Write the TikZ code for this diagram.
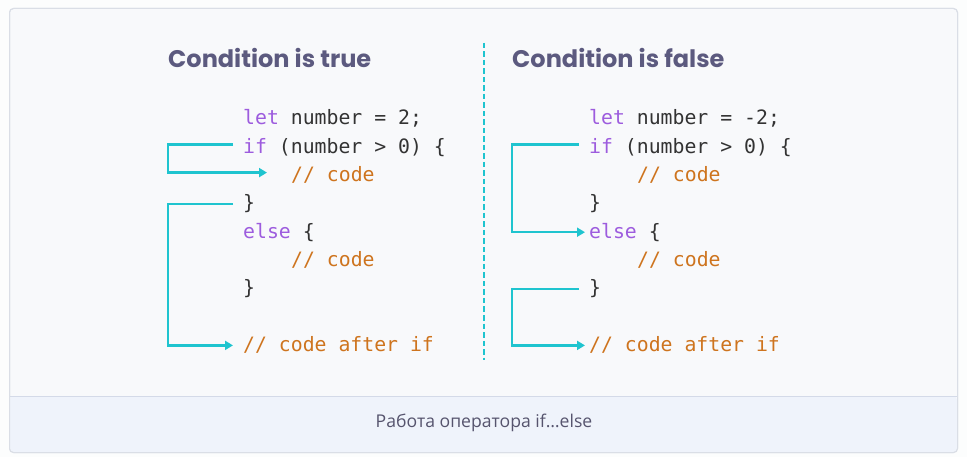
\documentclass[tikz,border=0pt]{standalone}
\usepackage{fontspec}
\setmainfont{Open Sans}
\newfontfamily\codefont{DejaVu Sans Mono}
\newfontfamily\titlefont{Poppins}
\usetikzlibrary{arrows.meta}
\definecolor{panelfill}{RGB}{248,249,251}
\definecolor{panelline}{RGB}{218,222,230}
\definecolor{capfill}{RGB}{239,243,251}
\definecolor{capline}{RGB}{212,218,232}
\definecolor{flowcyan}{RGB}{31,196,207}
\definecolor{titlegray}{RGB}{92,90,127}
\definecolor{captext}{RGB}{86,84,110}
\definecolor{kwpurple}{RGB}{157,92,222}
\definecolor{cmtorange}{RGB}{206,116,30}
\definecolor{codetext}{RGB}{51,51,51}
\newcommand{\kw}[1]{\textcolor{kwpurple}{#1}}

\begin{document}
\begin{tikzpicture}[
  x=1pt,y=-1pt,
  >={Triangle[length=8pt,width=9pt]},
  code/.style={font=\codefont\fontsize{19.8}{19.8}\selectfont,text=codetext,anchor=base west,
               inner sep=0pt,text height=12pt,text depth=0pt},
  cmt/.style={code,text=cmtorange},
  title/.style={font=\titlefont\bfseries\fontsize{24}{24}\selectfont,text=titlegray,anchor=base west,inner sep=0pt},
  flow/.style={->,line width=2.5pt,flowcyan}
]
\useasboundingbox (0,0) rectangle (967,457);

% Frame and caption band
\fill[white!60!panelfill] (0,0) rectangle (967,457);
\filldraw[fill=panelfill,draw=panelline,line width=1pt,rounded corners=4pt] (9.5,8.5) rectangle (957.5,452.5);
\fill[capfill,rounded corners=4pt] (10,396) -- (957,396) -- (957,452) -- (10,452) -- cycle;
\draw[capline,line width=1pt] (10,396) -- (957,396);
\draw[panelline,line width=1pt,rounded corners=4pt] (9.5,8.5) rectangle (957.5,452.5);
\node[font=\fontsize{17.6}{17.6}\selectfont,text=captext] (caption) at (484,423) {Работа оператора if…else};

% Separator between the two cases
\draw[flowcyan,line width=2.5pt,dash pattern=on 5.5pt off 3pt] (484,43) -- (484,360);

% Left panel: condition is true
\node[title] (titleL) at (168,68) {Condition is true};
\node[code] (lt1) at (243,125.0) {\kw{let} number = 2;};
\node[code] (lt2) at (243,153.3) {\kw{if} (number > 0) \{};
\node[cmt]  (lt3) at (291,181.6) {// code};
\node[code] (lt4) at (243,209.9) {\}};
\node[code] (lt5) at (243,238.2) {\kw{else} \{};
\node[cmt]  (lt6) at (291,266.5) {// code};
\node[code] (lt7) at (243,294.8) {\}};
\node[cmt]  (lt8) at (243,351.4) {// code after if};

\draw[flow] ([shift={(-10,-3)}]lt2.west) -- ++(-65,0) |- ([shift={(-24,-3)}]lt3.west);
\draw[flow] ([xshift=-10pt]lt4.west) -- ++(-65,0) |- ([xshift=-10pt]lt8.west);

% Right panel: condition is false
\node[title] (titleR) at (512,68) {Condition is false};
\node[code] (rt1) at (589,125.0) {\kw{let} number = -2;};
\node[code] (rt2) at (589,153.3) {\kw{if} (number > 0) \{};
\node[cmt]  (rt3) at (637,181.6) {// code};
\node[code] (rt4) at (589,209.9) {\}};
\node[code] (rt5) at (589,238.2) {\kw{else} \{};
\node[cmt]  (rt6) at (637,266.5) {// code};
\node[code] (rt7) at (589,294.8) {\}};
\node[cmt]  (rt8) at (589,351.4) {// code after if};

\draw[flow] ([shift={(-10,-3)}]rt2.west) -- ++(-67,0) |- ([xshift=-4pt]rt5.west);
\draw[flow] ([xshift=-10pt]rt7.west) -- ++(-67,0) |- ([xshift=-4pt]rt8.west);

\end{tikzpicture}
\end{document}
